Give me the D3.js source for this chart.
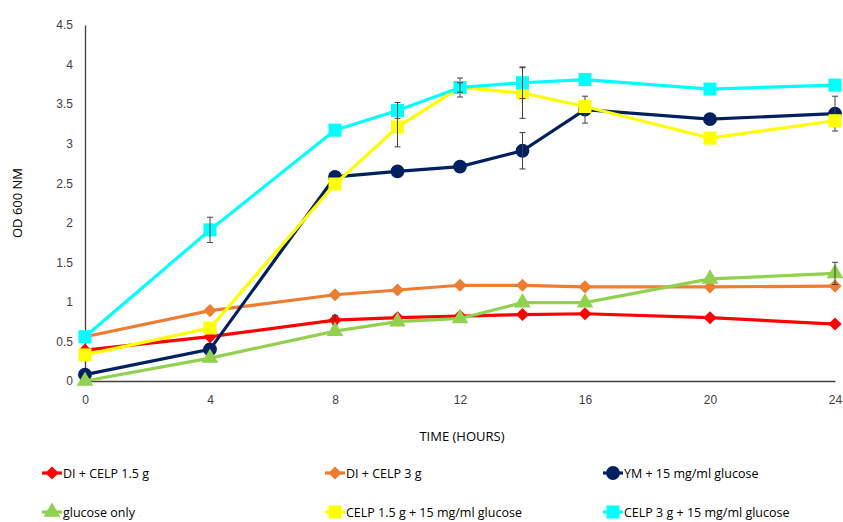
<!DOCTYPE html>
<html>
<head>
<meta charset="utf-8">
<script src="https://cdn.jsdelivr.net/npm/d3@7"></script>
<style>
  body { margin: 0; background: #fff; }
  svg { font-family: "Open Sans", "Noto Sans", sans-serif; }
</style>
</head>
<body>
<div id="chart"></div>
<script>
// data
const hours = [0, 4, 8, 10, 12, 14, 16, 20, 24];
const xTicks = [0, 4, 8, 12, 16, 20, 24];
const yTicks = [0, 0.5, 1, 1.5, 2, 2.5, 3, 3.5, 4, 4.5];

const diCelp15 = [0.39, 0.56, 0.77, 0.80, 0.82, 0.84, 0.85, 0.80, 0.72];
const diCelp3 = [0.56, 0.89, 1.09, 1.15, 1.21, 1.21, 1.19, 1.19, 1.20];
const ymGlucose = [0.08, 0.40, 2.58, 2.65, 2.71, 2.91, 3.43, 3.31, 3.38];
const glucoseOnly = [0.0, 0.29, 0.63, 0.75, 0.79, 0.99, 0.99, 1.29, 1.36];
const celp15Glucose = [0.33, 0.67, 2.49, 3.21, 3.71, 3.64, 3.47, 3.07, 3.29];
const celp3Glucose = [0.56, 1.91, 3.17, 3.42, 3.71, 3.77, 3.81, 3.69, 3.74];

const errDiCelp15 = [0, 0, 0.06, 0, 0, 0, 0, 0, 0];
const errYm = [0, 0, 0, 0, 0, 0.23, 0.17, 0, 0.22];
const errGlucose = [0, 0, 0, 0, 0, 0, 0, 0, 0.14];
const errCelp15 = [0, 0, 0, 0.25, 0.12, 0.32, 0, 0, 0];
const errCelp3 = [0, 0.16, 0, 0.1, 0.06, 0.2, 0, 0, 0];

const series = [
  { name: 'DI + CELP 1.5 g', values: diCelp15, err: errDiCelp15, color: '#ff0000', shape: 'diamond' },
  { name: 'DI + CELP 3 g', values: diCelp3, err: null, color: '#ed7d31', shape: 'diamond' },
  { name: 'YM + 15 mg/ml glucose', values: ymGlucose, err: errYm, color: '#002060', shape: 'circle' },
  { name: 'glucose only', values: glucoseOnly, err: errGlucose, color: '#92d050', shape: 'triangle' },
  { name: 'CELP 1.5 g + 15 mg/ml glucose', values: celp15Glucose, err: errCelp15, color: '#ffff00', shape: 'square' },
  { name: 'CELP 3 g + 15 mg/ml glucose', values: celp3Glucose, err: errCelp3, color: '#00ffff', shape: 'square' }
];

const width = 843, height = 522;
const svg = d3.select('#chart').append('svg')
  .attr('width', width).attr('height', height);

const x = d3.scaleLinear().domain([0, 24]).range([85, 835]);
const y = d3.scaleLinear().domain([0, 4.5]).range([381, 25]);

// axes
const xAxis = svg.append('g')
  .attr('transform', `translate(0,${y(0)})`)
  .call(d3.axisBottom(x).tickValues(xTicks).tickSize(0).tickPadding(14));
xAxis.select('.domain').attr('stroke', '#404040').attr('stroke-width', 1.3);
xAxis.selectAll('text').attr('fill', '#404040').attr('font-size', '12px');

const yAxis = svg.append('g')
  .attr('transform', `translate(${x(0)},0)`)
  .call(d3.axisLeft(y).tickValues(yTicks).tickSize(0).tickPadding(12).tickFormat(d3.format('')));
yAxis.select('.domain').attr('stroke', '#404040').attr('stroke-width', 1.3);
yAxis.selectAll('text').attr('fill', '#404040').attr('font-size', '12px');

svg.append('text')
  .attr('x', 462).attr('y', 441)
  .attr('text-anchor', 'middle')
  .attr('fill', '#000').attr('font-size', '13px')
  .text('TIME (HOURS)');

svg.append('text')
  .attr('transform', `translate(22,${(y(0) + y(4.5)) / 2}) rotate(-90)`)
  .attr('text-anchor', 'middle')
  .attr('fill', '#000').attr('font-size', '13px')
  .text('OD 600 NM');

const symbols = {
  diamond: d3.symbol().type(d3.symbolDiamond2).size(110),
  circle: d3.symbol().type(d3.symbolCircle).size(150),
  triangle: d3.symbol().type(d3.symbolTriangle).size(120),
  square: d3.symbol().type(d3.symbolSquare).size(170)
};

const line = d3.line().x(d => x(d[0])).y(d => y(d[1]));

series.forEach(function(s) {
  const pts = hours.map((h, i) => [h, s.values[i]]);
  const g = svg.append('g');

  g.append('path')
    .datum(pts)
    .attr('d', line)
    .attr('fill', 'none')
    .attr('stroke', s.color)
    .attr('stroke-width', 3.2);

  g.selectAll('.mk')
    .data(pts)
    .enter()
    .append('path')
    .attr('d', symbols[s.shape])
    .attr('transform', d => `translate(${x(d[0])},${y(d[1])})`)
    .attr('fill', s.color);

  if (s.err) {
    hours.forEach(function(h, i) {
      const e = s.err[i];
      if (!e) return;
      const cx = x(h), y1 = y(s.values[i] + e), y2 = y(s.values[i] - e);
      g.append('line').attr('x1', cx).attr('x2', cx).attr('y1', y1).attr('y2', y2)
        .attr('stroke', '#404040').attr('stroke-width', 1);
      [y1, y2].forEach(function(yy) {
        g.append('line').attr('x1', cx - 3).attr('x2', cx + 3).attr('y1', yy).attr('y2', yy)
          .attr('stroke', '#404040').attr('stroke-width', 1);
      });
    });
  }
});

// legend
const legendCols = [52, 335, 613];
const legendRows = [473, 512];
series.forEach(function(s, i) {
  const lx = legendCols[i % 3], ly = legendRows[Math.floor(i / 3)];
  const lg = svg.append('g').attr('transform', `translate(${lx},${ly})`);
  lg.append('line').attr('x1', -10).attr('x2', 10).attr('y1', 0).attr('y2', 0)
    .attr('stroke', s.color).attr('stroke-width', 3.2);
  lg.append('path').attr('d', symbols[s.shape]).attr('fill', s.color);
  lg.append('text')
    .attr('x', 11).attr('y', 4.5)
    .attr('fill', '#000').attr('font-size', '12.5px')
    .text(s.name);
});
</script>
</body>
</html>
